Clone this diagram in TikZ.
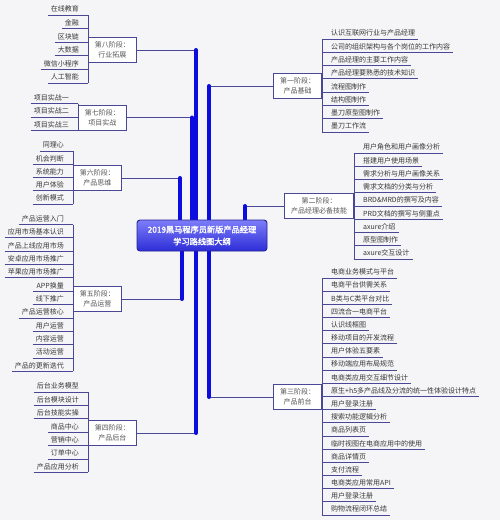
\documentclass[tikz,border=0pt]{standalone}
\usepackage{fontspec}
\setmainfont{Noto Sans CJK SC}
\newfontfamily\hubfont[FakeBold=2]{Noto Sans CJK SC}
\definecolor{bg}{RGB}{245,245,247}
\definecolor{ln}{RGB}{72,72,150}
\definecolor{tx}{RGB}{55,55,55}
\definecolor{trunkc}{RGB}{12,12,225}
\definecolor{hubtop}{RGB}{125,125,250}
\definecolor{hubbot}{RGB}{45,45,215}
\definecolor{hubline}{RGB}{35,35,150}
\tikzset{
  chl/.style={font=\fontsize{7}{8}\selectfont, text=tx, inner xsep=0pt, inner ysep=2pt, text height=6pt, text depth=1pt},
  ul/.style={draw=ln, line width=0.9pt},
  stagebox/.style={draw=ln, line width=0.9pt, fill=white, font=\fontsize{7}{10}\selectfont, text=tx!85, align=center, inner xsep=6.5pt, inner ysep=2pt, minimum height=25pt},
  trunk/.style={draw=trunkc, line width=4pt, line cap=round},
  branch/.style={draw=ln, line width=0.9pt},
  hub/.style={draw=hubline, line width=0.9pt, rounded corners=3pt, top color=hubtop, bottom color=hubbot, text=white, font=\hubfont\fontsize{8.2}{12}\selectfont, align=center, minimum width=130pt, minimum height=31pt, inner sep=0pt}
}
\newcommand\rkid[4]{%
  \node[chl, anchor=south west] (#1) at (#2,{#3}) {\hspace*{9pt}#4\hspace*{3pt}};
  \draw[ul] (#1.south west) -- (#1.south east);}
\newcommand\lkid[4]{%
  \node[chl, anchor=south east] (#1) at (#2,{#3}) {\hspace*{3pt}#4\hspace*{9pt}};
  \draw[ul] (#1.south west) -- (#1.south east);}
\begin{document}
\begin{tikzpicture}[x=1pt,y=-1pt]
\useasboundingbox (0,0) rectangle (500,520);
\fill[bg] (0,0) rectangle (500,520);

% children, right side
\foreach \t [count=\i] in {认识互联网行业与产品经理,公司的组织架构与各个岗位的工作内容,产品经理的主要工作内容,产品经理要熟悉的技术知识,流程图制作,结构图制作,墨刀原型图制作,墨刀工作流}
  {\rkid{c1-\i}{322}{39+13.3*(\i-1)}{\t}}
\draw[ul] (c1-1.south west) -- (c1-8.south west);

\foreach \t [count=\i] in {用户角色和用户画像分析,搭建用户使用场景,需求分析与用户画像关系,需求文档的分类与分析,BRD\&MRD的撰写及内容,PRD文档的撰写与侧重点,axure介绍,原型图制作,axure交互设计}
  {\rkid{c2-\i}{354}{153+13.25*(\i-1)}{\t}}
\draw[ul] (c2-1.south west) -- (c2-9.south west);

\foreach \t [count=\i] in {电商业务模式与平台,电商平台供需关系,B类与C类平台对比,四流合一电商平台,认识线框图,移动项目的开发流程,用户体验五要素,移动端应用布局规范,电商类应用交互细节设计,原生+h5多产品线及分流的统一性体验设计特点,用户登录注册,搜索功能逻辑分析,商品列表页,临时视图在电商应用中的使用,商品详情页,支付流程,电商类应用常用API,用户登录注册,购物流程闭环总结}
  {\rkid{c3-\i}{322}{278+13.17*(\i-1)}{\t}}
\draw[ul] (c3-1.south west) -- (c3-19.south west);

% children, left side
\foreach \t [count=\i] in {在线教育,金融,区块链,大数据,微信小程序,人工智能}
  {\lkid{c8-\i}{88}{15+13.6*(\i-1)}{\t}}
\draw[ul] (c8-1.south east) -- (c8-6.south east);

\foreach \t [count=\i] in {项目实战一,项目实战二,项目实战三}
  {\lkid{c7-\i}{78}{103.5+13.5*(\i-1)}{\t}}
\draw[ul] (c7-1.south east) -- (c7-3.south east);

\foreach \t [count=\i] in {同理心,机会判断,系统能力,用户体验,创新模式}
  {\lkid{c6-\i}{73}{151+13.25*(\i-1)}{\t}}
\draw[ul] (c6-1.south east) -- (c6-5.south east);

\foreach \t [count=\i] in {产品运营入门,应用市场基本认识,产品上线应用市场,安卓应用市场推广,苹果应用市场推广,APP换量,线下推广,产品运营核心,用户运营,内容运营,活动运营,产品的更新迭代}
  {\lkid{c5-\i}{73}{224.5+13.36*(\i-1)}{\t}}
\draw[ul] (c5-1.south east) -- (c5-12.south east);

\foreach \t [count=\i] in {后台业务模型,后台模块设计,后台技能实操,商品中心,营销中心,订单中心,产品应用分析}
  {\lkid{c4-\i}{88}{392+13.4*(\i-1)}{\t}}
\draw[ul] (c4-1.south east) -- (c4-7.south east);

% stage boxes
\node[stagebox, anchor=east] (s1) at (322,86) {第一阶段：\\产品基础};
\node[stagebox, anchor=east] (s2) at (354,206) {第二阶段：\\产品经理必备技能};
\node[stagebox, anchor=east] (s3) at (322,397) {第三阶段：\\产品前台};
\node[stagebox, anchor=west] (s4) at (88,433) {第四阶段：\\产品后台};
\node[stagebox, anchor=west] (s5) at (73,299) {第五阶段：\\产品运营};
\node[stagebox, anchor=west] (s6) at (73,178) {第六阶段：\\产品思维};
\node[stagebox, anchor=west] (s7) at (78,117.5) {第七阶段：\\项目实战};
\node[stagebox, anchor=west] (s8) at (88,50) {第八阶段：\\行业拓展};

% hub position
\coordinate (hubc) at (202,235.5);
\coordinate (k1) at (209,86);
\coordinate (k2) at (245,206);
\coordinate (k3) at (209,397);
\coordinate (k4) at (196,433);
\coordinate (k5) at (182,299);
\coordinate (k6) at (180,178);
\coordinate (k7) at (192,117.5);
\coordinate (k8) at (196,50);

% thin branches
\draw[branch] (k1) -- (s1.west);
\draw[branch] (k2) -- (s2.west);
\draw[branch] (k3) -- (s3.west);
\draw[branch] (k4) -- (s4.east);
\draw[branch] (k5) -- (s5.east);
\draw[branch] (k6) -- (s6.east);
\draw[branch] (k7) -- (s7.east);
\draw[branch] (k8) -- (s8.east);

% thick trunks
\draw[trunk] (k1 |- 0,225) -- (k1);
\draw[trunk] (k2 |- 0,225) -- (k2);
\draw[trunk] (k6 |- 0,225) -- (k6);
\draw[trunk] (k7 |- 0,225) -- (k7);
\draw[trunk] (k8 |- 0,225) -- (k8);
\draw[trunk] (k3 |- 0,245) -- (k3);
\draw[trunk] (k4 |- 0,245) -- (k4);
\draw[trunk] (k5 |- 0,245) -- (k5);

\node[hub] (hub) at (hubc) {2019黑马程序员新版产品经理\\学习路线图大纲};
\end{tikzpicture}
\end{document}
